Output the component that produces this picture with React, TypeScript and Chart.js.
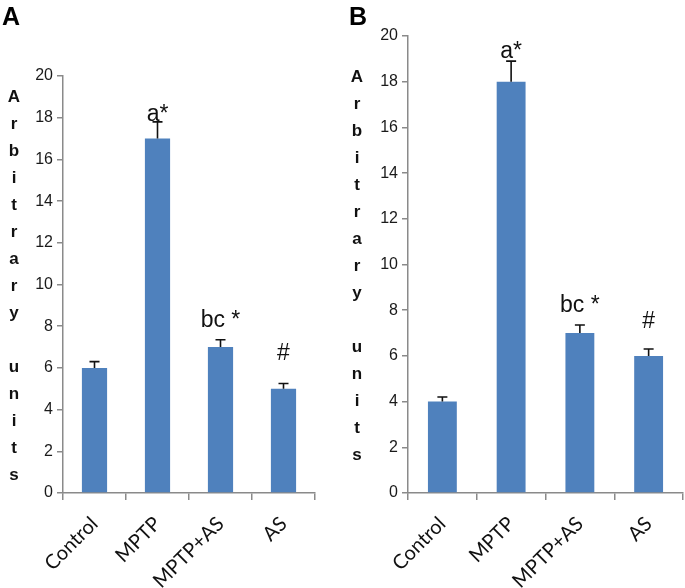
import React, { useEffect, useRef } from "react";
import { Chart, registerables } from "chart.js";

Chart.register(...registerables);

const categories = ["Control", "MPTP", "MPTP+AS", "AS"];

const valuesA = [6, 17, 7, 5];
const errorsA = [0.3, 0.8, 0.35, 0.25];
const marksA = ["", "a*", "bc *", "#"];
const markLevelsA = [0, 17.85, 7.95, 6.4];

const valuesB = [4, 18, 7, 6];
const errorsB = [0.2, 0.9, 0.35, 0.3];
const marksB = ["", "a*", "bc *", "#"];
const markLevelsB = [0, 19.05, 7.9, 7.2];

const yMin = 0;
const yMax = 20;
const yStep = 2;
const yTitleLines = ["A", "r", "b", "i", "t", "r", "a", "r", "y", "", "u", "n", "i", "t", "s"];

const BAR = "#4F81BD";
const AXIS = "#8a8a8a";

type PanelProps = {
  panel: string;
  values: number[];
  errors: number[];
  marks: string[];
  markLevels: number[];
  left: number;
  width: number;
  padTop: number;
  padRight: number;
  yWidth: number;
  barPct: number;
  titleX: number;
  titleY0: number;
  labelX: number;
};

function Panel(p: PanelProps) {
  const ref = useRef<HTMLCanvasElement | null>(null);
  useEffect(() => {
    if (!ref.current) return;
    const overlay = {
      id: "overlay" + p.panel,
      afterDatasetsDraw(chart: any) {
        const ctx = chart.ctx;
        const xs = chart.scales.x;
        const ys = chart.scales.y;
        ctx.save();
        // error bars
        ctx.strokeStyle = "#111";
        ctx.lineWidth = 1.6;
        p.values.forEach((v, i) => {
          const x = xs.getPixelForValue(i);
          const y0 = ys.getPixelForValue(v);
          const y1 = ys.getPixelForValue(v + p.errors[i]);
          ctx.beginPath();
          ctx.moveTo(x, y0);
          ctx.lineTo(x, y1);
          ctx.moveTo(x - 5, y1);
          ctx.lineTo(x + 5, y1);
          ctx.stroke();
        });
        // annotations
        ctx.fillStyle = "#111";
        ctx.textAlign = "center";
        ctx.textBaseline = "alphabetic";
        ctx.font = "23px 'Liberation Sans', Arial, sans-serif";
        p.marks.forEach((m, i) => {
          if (!m) return;
          const x = xs.getPixelForValue(i);
          const y = ys.getPixelForValue(p.markLevels[i]);
          ctx.fillText(m, x, y);
        });
        // y title
        ctx.font = "bold 17px 'Liberation Sans', Arial, sans-serif";
        ctx.textBaseline = "middle";
        yTitleLines.forEach((c, i) => {
          if (c) ctx.fillText(c, p.titleX, p.titleY0 + i * 27);
        });
        // panel label
        ctx.font = "bold 25px 'Liberation Sans', Arial, sans-serif";
        ctx.textAlign = "left";
        ctx.textBaseline = "alphabetic";
        ctx.fillStyle = "#000";
        ctx.fillText(p.panel, p.labelX, 25);
        ctx.restore();
      },
    };
    const chart = new Chart(ref.current, {
      type: "bar",
      data: {
        labels: categories,
        datasets: [
          {
            data: p.values,
            backgroundColor: BAR,
            borderWidth: 0,
            barPercentage: p.barPct,
            categoryPercentage: 1,
          },
        ],
      },
      options: {
        responsive: false,
        animation: false,
        devicePixelRatio: 1,
        layout: { padding: { top: p.padTop, right: p.padRight, left: 0, bottom: 0 } },
        plugins: { legend: { display: false }, tooltip: { enabled: false }, title: { display: false } },
        scales: {
          x: {
            offset: true,
            grid: { offset: true, drawOnChartArea: false, drawTicks: true, tickLength: 7, color: AXIS, lineWidth: 1.5 },
            border: { color: AXIS, width: 1.5 },
            ticks: {
              minRotation: 45,
              maxRotation: 45,
              padding: 12,
              color: "#111",
              font: { family: "Lato, 'Open Sans', sans-serif", size: 20 },
            },
            afterFit(s: any) {
              s.height = 95;
            },
          },
          y: {
            min: yMin,
            max: yMax,
            grid: { drawOnChartArea: false, drawTicks: true, tickLength: 6, color: AXIS, lineWidth: 1.5 },
            border: { color: AXIS, width: 1.5 },
            ticks: {
              stepSize: yStep,
              padding: 4,
              color: "#1a1a1a",
              font: { family: "'Liberation Sans', Arial, sans-serif", size: 16 },
            },
            afterFit(s: any) {
              s.width = p.yWidth;
            },
          },
        },
      },
      plugins: [overlay],
    });
    return () => chart.destroy();
  }, []);
  return (
    <canvas
      ref={ref}
      width={p.width}
      height={588}
      style={{ position: "absolute", left: p.left, top: 0, width: p.width, height: 588, display: "block" }}
    />
  );
}

export default function App() {
  return (
    <div style={{ position: "absolute", left: 0, top: 0, width: 685, height: 588, background: "#fff", overflow: "hidden" }}>
      <Panel
        panel="A"
        values={valuesA}
        errors={errorsA}
        marks={marksA}
        markLevels={markLevelsA}
        left={0}
        width={340}
        padTop={76}
        padRight={25}
        yWidth={63}
        barPct={0.4}
        titleX={14}
        titleY0={97}
        labelX={2}
      />
      <Panel
        panel="B"
        values={valuesB}
        errors={errorsB}
        marks={marksB}
        markLevels={markLevelsB}
        left={340}
        width={345}
        padTop={36}
        padRight={2}
        yWidth={68}
        barPct={0.42}
        titleX={17}
        titleY0={77}
        labelX={9}
      />
    </div>
  );
}
